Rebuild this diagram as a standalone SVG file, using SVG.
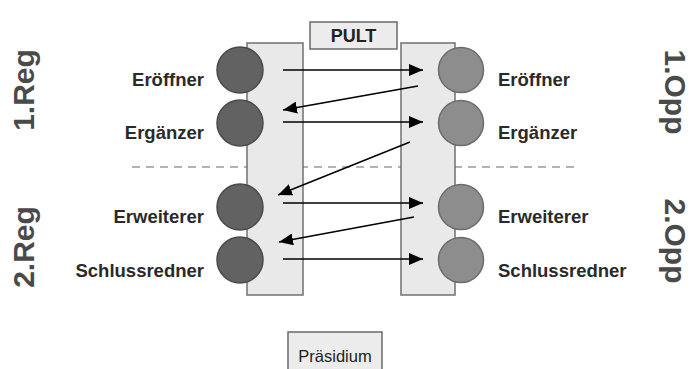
<svg xmlns="http://www.w3.org/2000/svg" width="692" height="369" viewBox="0 0 692 369">
<defs>
<style>
.panel{fill:#e9e9e9;stroke:#707070;stroke-width:1.5}
.box{fill:#ececec;stroke:#6a6a6a;stroke-width:1.5}
.reg{fill:#626262;stroke:#4a4a4a;stroke-width:1.5}
.opp{fill:#8d8d8d;stroke:#6c6c6c;stroke-width:1.5}
.lbl{font-family:"Liberation Sans",Arial,sans-serif;font-weight:bold;font-size:18.5px;fill:#2a2a2a}
.side{font-family:"Liberation Sans",Arial,sans-serif;font-weight:bold;font-size:30px;fill:#4a4a4a}
.edge{stroke:#000;stroke-width:1.5;fill:none;marker-end:url(#ah)}
</style>
<marker id="ah" viewBox="0 0 14 12" refX="14" refY="6" markerWidth="14" markerHeight="12" markerUnits="userSpaceOnUse" orient="auto">
<path d="M0,0 L14,6 L0,12 z" fill="#000"/>
</marker>
</defs>
<rect width="692" height="369" fill="#fff"/>
<line x1="132" y1="167" x2="575" y2="167" stroke="#9a9a9a" stroke-width="1.5" stroke-dasharray="8,6"/>
<g id="pult"><rect class="box" x="310" y="22" width="87" height="27"/><text x="353.5" y="42" text-anchor="middle" style="font-family:'Liberation Sans',Arial,sans-serif;font-weight:bold;font-size:18px;fill:#222">PULT</text></g>
<g id="praesidium"><rect class="box" x="288" y="332" width="94" height="45"/><text x="335" y="362" text-anchor="middle" style="font-family:'Liberation Sans',Arial,sans-serif;font-size:16.5px;fill:#222">Präsidium</text></g>
<g id="panel-reg"><rect class="panel" x="247" y="43" width="56" height="252"/></g>
<g id="panel-opp"><rect class="panel" x="401" y="43" width="54" height="252"/></g>
<g id="reg-eroeffner"><circle class="reg" cx="240" cy="70" r="23"/><text class="lbl" x="204" y="86" text-anchor="end">Eröffner</text></g>
<g id="reg-ergaenzer"><circle class="reg" cx="240" cy="123" r="23"/><text class="lbl" x="204" y="139" text-anchor="end">Ergänzer</text></g>
<g id="reg-erweiterer"><circle class="reg" cx="240" cy="207" r="23"/><text class="lbl" x="204" y="223" text-anchor="end">Erweiterer</text></g>
<g id="reg-schlussredner"><circle class="reg" cx="240" cy="260" r="23"/><text class="lbl" x="204" y="277" text-anchor="end">Schlussredner</text></g>
<g id="opp-eroeffner"><circle class="opp" cx="461" cy="70" r="22.5"/><text class="lbl" x="498" y="86">Eröffner</text></g>
<g id="opp-ergaenzer"><circle class="opp" cx="461" cy="123" r="22.5"/><text class="lbl" x="498" y="139">Ergänzer</text></g>
<g id="opp-erweiterer"><circle class="opp" cx="461" cy="207" r="22.5"/><text class="lbl" x="498" y="223">Erweiterer</text></g>
<g id="opp-schlussredner"><circle class="opp" cx="461" cy="260" r="22.5"/><text class="lbl" x="498" y="277">Schlussredner</text></g>
<g id="label-1reg"><text class="side" transform="translate(34,90) rotate(-90)" text-anchor="middle">1.Reg</text></g>
<g id="label-2reg"><text class="side" transform="translate(34,247) rotate(-90)" text-anchor="middle">2.Reg</text></g>
<g id="label-1opp"><text class="side" transform="translate(665,92) rotate(90)" text-anchor="middle">1.Opp</text></g>
<g id="label-2opp"><text class="side" transform="translate(665,241) rotate(90)" text-anchor="middle">2.Opp</text></g>
<g id="connectors">
<line class="edge" x1="283" y1="70" x2="423" y2="70"/>
<line class="edge" x1="418" y1="86" x2="283" y2="110"/>
<line class="edge" x1="283" y1="122" x2="423" y2="122"/>
<line class="edge" x1="410" y1="142" x2="278" y2="195"/>
<line class="edge" x1="283" y1="203" x2="423" y2="203"/>
<line class="edge" x1="414" y1="217" x2="279" y2="242"/>
<line class="edge" x1="283" y1="259" x2="423" y2="259"/>
</g>
</svg>
